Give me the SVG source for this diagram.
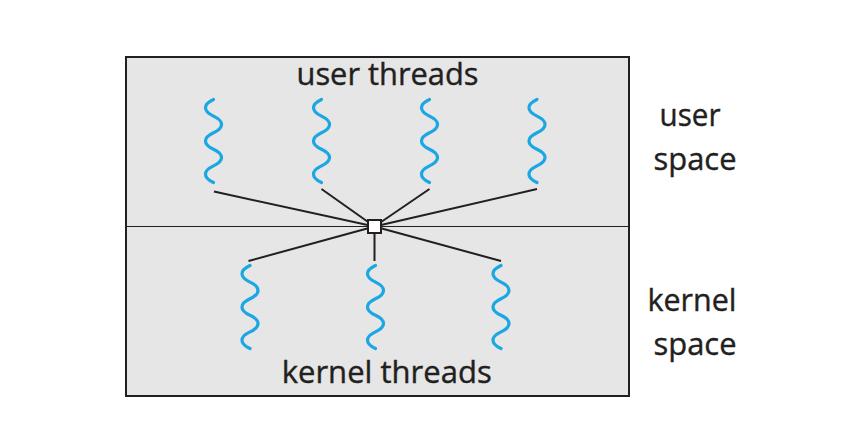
<svg xmlns="http://www.w3.org/2000/svg" xmlns:xlink="http://www.w3.org/1999/xlink" width="848" height="421" viewBox="0 0 848 421">
  <style>
    .lbl { font-family: "Open Sans", "Liberation Sans", sans-serif; font-size: 31px; fill: #231f20; stroke: #231f20; stroke-width: 0.4; text-anchor: middle; }
    .wave { fill: none; stroke: #1ba6e4; stroke-width: 3.2; stroke-linecap: round; }
    .conn { stroke: #231f20; stroke-width: 2; fill: none; }
  </style>
  <defs>
    <path id="sq" class="wave" d="M0,0 c -10.7,5 -10.7,11.6 0,16.6 c 10.7,5 10.7,11.6 0,16.6 c -10.7,5 -10.7,11.6 0,16.6 c 10.7,5 10.7,11.6 0,16.6 c -10.7,5 -10.7,11.6 0,16.6"/>
  </defs>
  <rect width="848" height="421" fill="#ffffff"/>
  <g id="frame">
    <rect x="126" y="57" width="503" height="339" fill="#e6e6e6" stroke="#231f20" stroke-width="2"/>
    <line x1="126" y1="226.5" x2="629" y2="226.5" stroke="#231f20" stroke-width="1.2"/>
  </g>
  <g id="labels">
    <text class="lbl" x="387.5" y="85" textLength="182" lengthAdjust="spacingAndGlyphs">user threads</text>
    <text class="lbl" x="386.7" y="383" textLength="210" lengthAdjust="spacingAndGlyphs">kernel threads</text>
    <text class="lbl" x="690" y="126" textLength="61" lengthAdjust="spacingAndGlyphs">user</text>
    <text class="lbl" x="695" y="170" textLength="83" lengthAdjust="spacingAndGlyphs">space</text>
    <text class="lbl" x="692" y="311" textLength="89" lengthAdjust="spacingAndGlyphs">kernel</text>
    <text class="lbl" x="695" y="355" textLength="83" lengthAdjust="spacingAndGlyphs">space</text>
  </g>
  <g id="connectors">
    <line class="conn" x1="214" y1="191.5" x2="374.5" y2="226.5"/>
    <line class="conn" x1="321.5" y1="189" x2="374.5" y2="226.5"/>
    <line class="conn" x1="429.5" y1="189" x2="374.5" y2="226.5"/>
    <line class="conn" x1="537" y1="189" x2="374.5" y2="226.5"/>
    <line class="conn" x1="248.5" y1="261" x2="374.5" y2="226.5"/>
    <line class="conn" x1="374.5" y1="261" x2="374.5" y2="226.5"/>
    <line class="conn" x1="501" y1="261" x2="374.5" y2="226.5"/>
  </g>
  <g id="user-thread-1"><use xlink:href="#sq" href="#sq" x="213.5" y="99.5"/></g>
  <g id="user-thread-2"><use xlink:href="#sq" href="#sq" x="321.5" y="99.5"/></g>
  <g id="user-thread-3"><use xlink:href="#sq" href="#sq" x="429.5" y="99.5"/></g>
  <g id="user-thread-4"><use xlink:href="#sq" href="#sq" x="537" y="99.5"/></g>
  <g id="kernel-thread-1"><use xlink:href="#sq" href="#sq" x="250" y="265.5"/></g>
  <g id="kernel-thread-2"><use xlink:href="#sq" href="#sq" x="375.5" y="265.5"/></g>
  <g id="kernel-thread-3"><use xlink:href="#sq" href="#sq" x="501" y="265.5"/></g>
  <g id="lwp">
    <rect x="368" y="220" width="13" height="13" fill="#ffffff" stroke="#231f20" stroke-width="2"/>
  </g>
</svg>
